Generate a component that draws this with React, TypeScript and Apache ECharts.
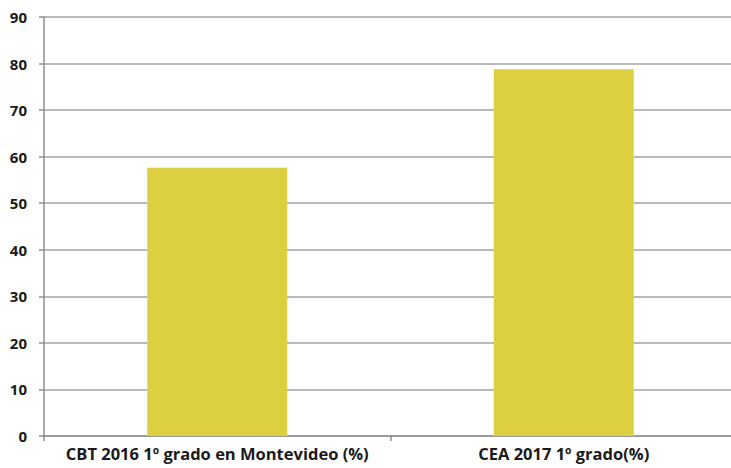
import React, { useEffect, useRef } from "react";
import * as echarts from "echarts";

const categories = ["CBT 2016 1º grado en Montevideo (%)", "CEA 2017 1º grado(%)"];
const values = [57.6, 78.8];
const yTicks = { min: 0, max: 90, interval: 10 };

export default function App() {
  const ref = useRef<HTMLDivElement>(null);
  useEffect(() => {
    if (!ref.current) return;
    const chart = echarts.init(ref.current, undefined, { renderer: "svg" });
    chart.setOption({
      animation: false,
      backgroundColor: "#ffffff",
      textStyle: { fontFamily: "Open Sans" },
      grid: { left: 44, right: 3, top: 17, bottom: 32, containLabel: false },
      xAxis: {
        type: "category",
        data: categories,
        axisLine: { lineStyle: { color: "#8f8f8f", width: 1.5 } },
        axisTick: { show: true, interval: 0, length: 5, lineStyle: { color: "#8f8f8f", width: 1.5 } },
        axisLabel: {
          interval: 0,
          color: "#1a1a1a",
          fontFamily: "Open Sans",
          fontWeight: "bold",
          fontSize: 16.5,
          margin: 9,
        },
      },
      yAxis: {
        type: "value",
        min: yTicks.min,
        max: yTicks.max,
        interval: yTicks.interval,
        axisLine: { show: true, lineStyle: { color: "#8f8f8f", width: 1.5 } },
        axisTick: { show: true, length: 5, lineStyle: { color: "#8f8f8f", width: 1.5 } },
        axisLabel: {
          color: "#1a1a1a",
          fontFamily: "Open Sans",
          fontWeight: "bold",
          fontSize: 15,
          margin: 17,
        },
        splitLine: { show: true, lineStyle: { color: "#a3a3a3", width: 1.5 } },
      },
      series: [
        {
          type: "bar",
          data: values,
          barWidth: 140,
          itemStyle: { color: "#dccf40" },
        },
      ],
    });
    return () => chart.dispose();
  }, []);
  return (
    <div style={{ position: "fixed", left: 0, top: 0, width: 731, height: 468, overflow: "hidden" }}>
      <div ref={ref} style={{ width: 740, height: 468 }} />
    </div>
  );
}
